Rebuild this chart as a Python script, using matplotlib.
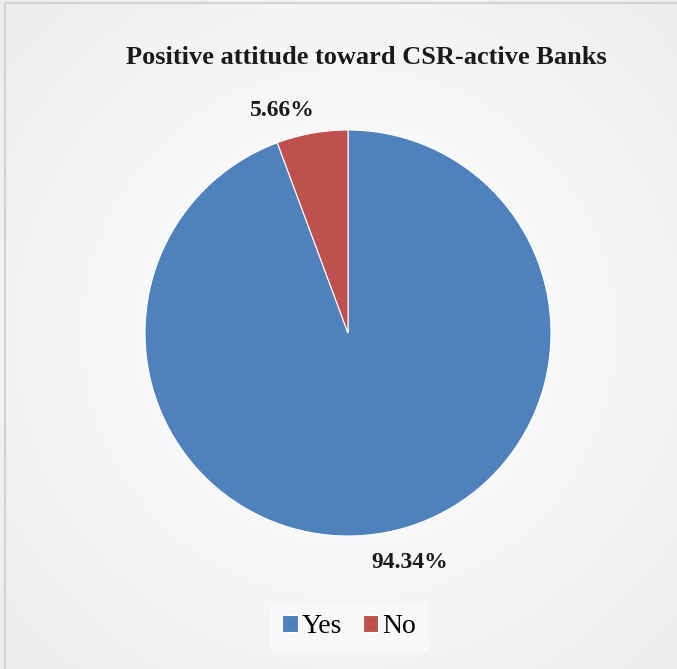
import numpy as np
import matplotlib.pyplot as plt
from matplotlib.patches import Rectangle

# Survey answers
labels = ['Yes', 'No']
shares = [94.34, 5.66]
colors = ['#4F81BD', '#C0504D']

# where the percentage labels sit: radius factor and angular nudge (deg)
label_radius = [1.17, 1.14]
label_nudge = [5.0, 6.2]

W, H = 677, 669
fig = plt.figure(figsize=(W / 100, H / 100), dpi=100)
fig.patch.set_facecolor('white')

# soft radial background behind the chart
bg = fig.add_axes([0, 0, 1, 1], zorder=-10)
yy, xx = np.mgrid[0:H, 0:W]
d = np.sqrt((xx - 348) ** 2 + (yy - 333) ** 2) / 470.0
shade = 1.0 - 0.07 * np.clip(d, 0, 1) ** 1.2
rgb = np.dstack([shade, shade, shade])
bg.imshow(rgb, extent=[0, W, H, 0], aspect='auto', interpolation='bilinear')
bg.set_xlim(0, W)
bg.set_ylim(H, 0)
bg.axis('off')
bg.add_patch(Rectangle((4.5, 2.5), W + 10, H + 10, fill=False,
                       edgecolor='#d2d2d2', linewidth=1.5))

ax = fig.add_axes([145 / W, (H - 536) / H, 406 / W, 406 / H])
wedges, texts, autotexts = ax.pie(
    shares, colors=colors, startangle=90, counterclock=False,
    autopct='%.2f%%', radius=1.0,
    wedgeprops=dict(edgecolor='white', linewidth=0.8))
for w, t, r, nudge in zip(wedges, autotexts, label_radius, label_nudge):
    ang = np.deg2rad((w.theta1 + w.theta2) / 2 + nudge)
    t.set_position((r * np.cos(ang), r * np.sin(ang)))
    t.set_fontfamily('Liberation Serif')
    t.set_fontweight('bold')
    t.set_fontsize(17)
    t.set_color('#1a1a1a')
ax.set_xlim(-1, 1)
ax.set_ylim(-1, 1)
ax.set_aspect('equal')

fig.text(0.5406, 1 - 64 / H, 'Positive attitude toward CSR-active Banks',
         ha='center', va='baseline', fontfamily='Liberation Serif',
         fontweight='bold', fontsize=19, color='#1a1a1a')

leg = fig.legend(wedges, labels, loc='center', bbox_to_anchor=(0.516, 0.063),
                 ncol=2, frameon=True, fancybox=False, handlelength=0.55,
                 handleheight=0.55, handletextpad=0.15, columnspacing=0.75,
                 borderpad=0.45, prop={'family': 'Liberation Serif', 'size': 20})
leg.get_frame().set_facecolor('#fafafa')
leg.get_frame().set_edgecolor('none')

fig.savefig('out.png', dpi=100)
